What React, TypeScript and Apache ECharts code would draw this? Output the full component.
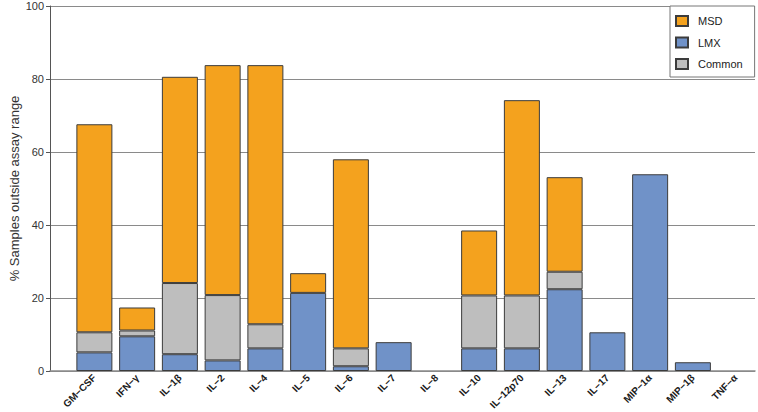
import React, { useEffect, useRef } from "react";
import * as echarts from "echarts";

const categories = [
  "GM−CSF", "IFN−γ", "IL−1β", "IL−2", "IL−4", "IL−5", "IL−6", "IL−7",
  "IL−8", "IL−10", "IL−12p70", "IL−13", "IL−17", "MIP−1α", "MIP−1β", "TNF−α",
];
// stacked segments (percent)
const lmx = [5.1, 9.5, 4.6, 2.9, 6.2, 21.4, 1.3, 7.9, 0, 6.2, 6.2, 22.4, 10.6, 53.9, 2.4, 0];
const common = [5.5, 1.6, 19.5, 17.9, 6.6, 0, 4.9, 0, 0, 14.5, 14.5, 4.8, 0, 0, 0, 0];
const msd = [57.0, 6.3, 56.5, 63.0, 71.0, 5.4, 51.8, 0, 0, 17.8, 53.5, 25.9, 0, 0, 0, 0];
const yTicks = [0, 20, 40, 60, 80, 100];

const FONT = "'Liberation Sans', Arial, Helvetica, sans-serif";

const nz = (arr: number[]) => arr.map((v) => (v === 0 ? null : v));

export default function App() {
  const ref = useRef<HTMLDivElement>(null);
  useEffect(() => {
    if (!ref.current) return;
    const chart = echarts.init(ref.current, undefined, { renderer: "svg" });
    const border = { borderColor: "#3c3c3c", borderWidth: 1 };
    chart.setOption({
      animation: false,
      backgroundColor: "#ffffff",
      textStyle: { fontFamily: FONT },
      grid: [
        { left: 50, right: 3, top: 6, bottom: 41, outerBoundsMode: "none", containLabel: false },
        { left: 73, right: 1, top: 6, bottom: 41, outerBoundsMode: "none", containLabel: false },
      ],
      legend: {
        orient: "vertical",
        left: 670,
        top: 6,
        data: ["MSD", "LMX", "Common"],
        itemWidth: 12,
        itemHeight: 10,
        itemGap: 9.5,
        padding: [9, 12, 7, 5],
        borderColor: "#777",
        borderWidth: 1,
        backgroundColor: "#ffffff",
        textStyle: { fontSize: 11, color: "#222", fontFamily: FONT, padding: [0, 0, 0, 5] },
        icon: "rect",
      },
      xAxis: [
        {
          type: "value",
          gridIndex: 0,
          min: 0,
          max: 1,
          axisLine: { show: true, lineStyle: { color: "#8a8a8a", width: 1.5 } },
          axisTick: { show: false },
          axisLabel: { show: false },
          splitLine: { show: false },
        },
        {
          type: "category",
          gridIndex: 1,
          data: categories,
          axisLine: { show: false },
          axisTick: { show: false },
          axisLabel: {
            rotate: 45,
            fontSize: 10,
            fontWeight: "bold",
            color: "#1a1a1a",
            margin: 5,
            interval: 0,
            hideOverlap: false,
            fontFamily: FONT,
          },
          splitLine: { show: false },
        },
      ],
      yAxis: [
        {
          type: "value",
          gridIndex: 0,
          min: yTicks[0],
          max: yTicks[yTicks.length - 1],
          interval: 20,
          name: "% Samples outside assay range",
          nameLocation: "middle",
          nameGap: 29,
          nameMoveOverlap: false,
          nameTextStyle: { fontSize: 13, color: "#333", fontFamily: FONT },
          axisLine: { show: true, lineStyle: { color: "#555" } },
          axisTick: { show: true, length: 4, lineStyle: { color: "#555" } },
          axisLabel: { fontSize: 11, color: "#333", margin: 6, fontFamily: FONT },
          splitLine: { show: true, lineStyle: { color: "#8a8a8a", width: 1 } },
        },
        {
          type: "value",
          gridIndex: 1,
          min: 0,
          max: 100,
          show: false,
          splitLine: { show: false },
        },
      ],
      series: [
        {
          name: "LMX",
          type: "bar",
          stack: "s",
          xAxisIndex: 1,
          yAxisIndex: 1,
          barWidth: 36,
          data: nz(lmx),
          itemStyle: { color: "#7092C8", ...border },
        },
        {
          name: "Common",
          type: "bar",
          stack: "s",
          xAxisIndex: 1,
          yAxisIndex: 1,
          barWidth: 36,
          data: nz(common),
          itemStyle: { color: "#BEBEBE", ...border },
        },
        {
          name: "MSD",
          type: "bar",
          stack: "s",
          xAxisIndex: 1,
          yAxisIndex: 1,
          barWidth: 36,
          data: nz(msd),
          itemStyle: { color: "#F4A21E", ...border },
        },
      ],
    });
    return () => chart.dispose();
  }, []);
  return (
    <div
      ref={ref}
      style={{ position: "fixed", left: 0, top: 0, width: 758, height: 412 }}
    />
  );
}
